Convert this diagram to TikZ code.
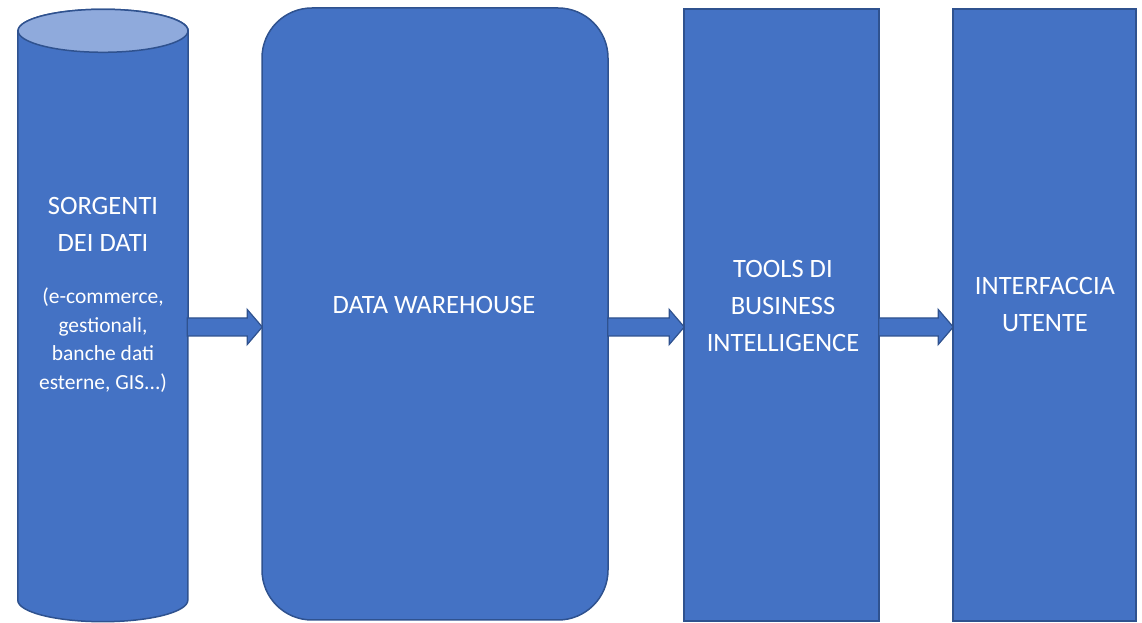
\documentclass[tikz,border=0pt]{standalone}
\usepackage{fontspec}
\setmainfont{Carlito}
\usetikzlibrary{calc}
\definecolor{obody}{HTML}{4472C4}
\definecolor{oedge}{HTML}{2F528F}
\definecolor{otop}{HTML}{8FAADC}
\newcommand\blockarrow[2]{%
  \path[blockarr] ($(#1.east |- ay)+(-1,9)$) -- ($(#2.west |- ay)+(-14,9)$)
    -- ($(#2.west |- ay)+(-14,17.5)$) -- ($(#2.west |- ay)+(1,0)$)
    -- ($(#2.west |- ay)+(-14,-17.5)$) -- ($(#2.west |- ay)+(-14,-9)$)
    -- ($(#1.east |- ay)+(-1,-9)$) -- cycle;}
\begin{document}
\begin{tikzpicture}[x=1pt,y=1pt,
  shapebox/.style={draw=oedge, fill=obody, line width=1.5pt, inner sep=0pt},
  bigtext/.style={text=white, font=\fontsize{26.5}{37}\selectfont, align=center, inner sep=0pt},
  smalltext/.style={text=white, font=\fontsize{21.5}{28.5}\selectfont, align=center, inner sep=0pt},
  blockarr/.style={fill=obody, draw=oedge, line width=1.2pt, line join=miter}]
\useasboundingbox (0,0) rectangle (1142,623);
\coordinate (ay) at (0,296);
% cylinder (sources)
\node[inner sep=0pt, minimum width=170, minimum height=569] (src) at (103,307.5) {};
\path[shapebox] (src.north west) -- (src.south west)
  arc[start angle=180, end angle=360, x radius=85, y radius=21.5]
  -- (src.north east)
  arc[start angle=0, end angle=180, x radius=85, y radius=21.5] -- cycle;
\path[draw=oedge, fill=otop, line width=1.5pt] (src.north) ellipse[x radius=85, y radius=21.5];
% other blocks
\node[shapebox, rounded corners=50, minimum width=346, minimum height=612] (dw) at (435,309) {};
\node[shapebox, minimum width=195, minimum height=612] (bi) at (781.5,308) {};
\node[shapebox, minimum width=183, minimum height=612] (ui) at (1044.5,308) {};
% arrows
\blockarrow{src}{dw}
\blockarrow{dw}{bi}
\blockarrow{bi}{ui}
% texts
\node[bigtext] (srct) at (103,399) {SORGENTI\\DEI DATI};
\node[smalltext] (srcs) at (103,283) {(e-commerce,\\gestionali,\\banche dati\\esterne, GIS...)};
\node[bigtext, anchor=base] (dwt) at (434,309.3) {DATA WAREHOUSE};
\node[bigtext] (bit) at (783,317.5) {TOOLS DI\\BUSINESS\\INTELLIGENCE};
\node[bigtext] (uit) at (1045,318) {INTERFACCIA\\UTENTE};
\end{tikzpicture}
\end{document}
